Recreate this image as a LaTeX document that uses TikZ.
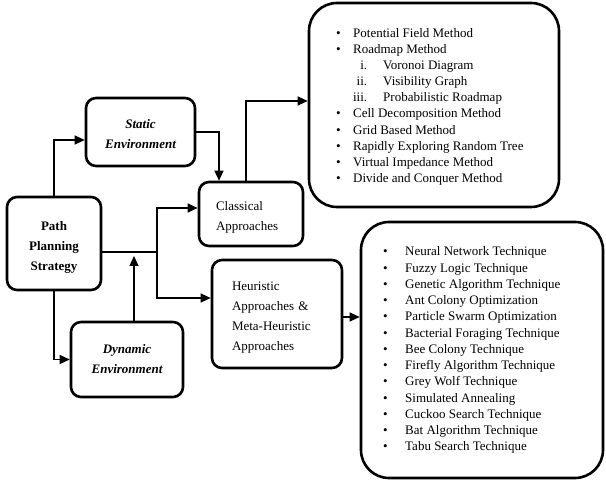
\documentclass[tikz,border=0pt]{standalone}
\usepackage{fontspec}
\setmainfont{Liberation Serif}
\usetikzlibrary{arrows.meta}

\begin{document}
\begin{tikzpicture}[x=1pt,y=-1pt,
  box/.style={draw, line width=2.6pt, rounded corners=10pt, inner sep=0pt,
    font=\fontsize{13}{20}\selectfont},
  listbox/.style={draw, line width=2.6pt, rounded corners=28pt, inner sep=0pt},
  link/.style={line width=1.2pt},
  arr/.style={link, -{Triangle[length=10pt,width=9pt]}},
  item/.style={anchor=base west, inner sep=0pt, font=\fontsize{13}{16}\selectfont},
]
\useasboundingbox (0,0) rectangle (606,481);

% a tall strut on the first line moves a text block slightly lower in its box
\newcommand\lowr{\rule{0pt}{16pt}}

% left-hand boxes
\node[box, minimum width=94pt, minimum height=93pt, align=center,
  font=\fontsize{13}{20}\selectfont\bfseries] (pps) at (54,243.5)
  {\lowr Path\\Planning\\Strategy};
\node[box, minimum width=109pt, minimum height=68pt, align=center,
  font=\fontsize{13}{20}\selectfont\bfseries\itshape] (static) at (140.5,132)
  {\rule{0pt}{14pt}Static\\Environment};
\node[box, minimum width=112pt, minimum height=75pt, align=center,
  font=\fontsize{13}{20}\selectfont\bfseries\itshape] (dynamic) at (127,359.5)
  {Dynamic\\Environment};

% approach boxes
\node[box, minimum width=104pt, minimum height=64pt, align=left,
  text width=70pt] (classical) at (251,214) {\lowr Classical\\Approaches};
\node[box, minimum width=130pt, minimum height=108pt, align=left,
  text width=90pt] (heur) at (277,314)
  {\lowr Heuristic\\Approaches \&\\Meta-Heuristic\\Approaches};

% method list boxes
\node[listbox, minimum width=250pt, minimum height=204pt] (toplist) at (434,105) {};
\node[listbox, minimum width=242pt, minimum height=256pt] (botlist) at (482,350) {};

% classical methods
\newcommand\bul{\makebox[17pt][l]{\textbullet}}
\newcommand\rom[1]{\makebox[31pt][r]{#1}\hspace{16pt}}
\foreach \txt [count=\i from 0] in {
  \bul Potential Field Method,
  \bul Roadmap Method,
  \rom{i.}Voronoi Diagram,
  \rom{ii.}Visibility Graph,
  \rom{iii.}Probabilistic Roadmap,
  \bul Cell Decomposition Method,
  \bul Grid Based Method,
  \bul Rapidly Exploring Random Tree,
  \bul Virtual Impedance Method,
  \bul Divide and Conquer Method}
  \node[item] (cm\i) at (336, 37.5+16.1*\i) {\txt};

% heuristic techniques
\foreach \txt [count=\i from 0] in {
  Neural Network Technique,
  Fuzzy Logic Technique,
  Genetic Algorithm Technique,
  Ant Colony Optimization,
  Particle Swarm Optimization,
  Bacterial Foraging Technique,
  Bee Colony Technique,
  Firefly Algorithm Technique,
  Grey Wolf Technique,
  Simulated Annealing,
  Cuckoo Search Technique,
  Bat Algorithm Technique,
  Tabu Search Technique}
  \node[item] (hm\i) at (383, 256+16.25*\i) {\makebox[22pt][l]{\textbullet}\txt};

% connectors
\coordinate (j) at (157,252);
\coordinate (dtip) at (134,256);
\draw[arr] (pps.north) |- ([yshift=-8pt]static.west);
\draw[arr] (pps.south) |- (dynamic.west);
\draw[arr] (static.east) -| ([xshift=-32pt]classical.north);
\draw[arr] ([xshift=-5pt]classical.north) |- ([yshift=4pt]toplist.west);
\draw[link] ([yshift=-8.5pt]pps.east) -- (j);
\draw[arr] (j) |- ([yshift=6pt]classical.west);
\draw[arr] (j) |- ([yshift=16pt]heur.west);
\draw[arr] ([xshift=7pt]dynamic.north) -- (dtip);
\draw[arr] ([yshift=-3pt]heur.east) -- ([yshift=-3pt]heur.east -| botlist.west);
\end{tikzpicture}
\end{document}
